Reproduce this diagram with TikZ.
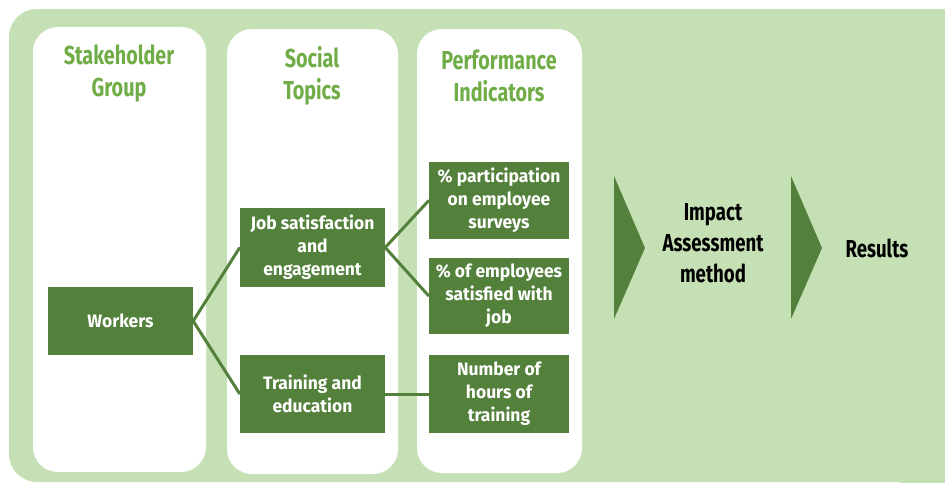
\documentclass[tikz,border=0pt]{standalone}
\usepackage{fontspec}
\setmainfont{Fira Sans}
\newfontfamily\condfont{Fira Sans}[FakeStretch=0.76]
\newfontfamily\boxfont{Fira Sans}[FakeStretch=0.97]
\definecolor{dkgreen}{RGB}{83,129,59}
\definecolor{bggreen}{RGB}{198,224,182}
\definecolor{ttlgreen}{RGB}{112,173,71}
\tikzset{
  box/.style={fill=dkgreen, text=white, align=center, inner sep=0pt,
    font=\boxfont\bfseries\fontsize{18}{23}\selectfont},
  colbox/.style={fill=white, rounded corners=25pt},
  ttl/.style={text=ttlgreen, align=center, font=\condfont\bfseries\fontsize{26}{32}\selectfont},
  blk/.style={text=black, align=center, font=\condfont\bfseries\fontsize{24.5}{31}\selectfont},
  link/.style={draw=dkgreen, line width=3pt},
  chev/.style={fill=dkgreen},
}
\begin{document}
\begin{tikzpicture}[x=1pt,y=-1pt]
\useasboundingbox (0,0) rectangle (945,483);
\clip (0,0) rectangle (945,483);
\fill[white] (0,0) rectangle (945,483);
\fill[bggreen, rounded corners=28pt] (9,9) rectangle (975,482);
\fill[bggreen] (900,440) rectangle (945,483);
% columns
\fill[colbox] (33,27) rectangle (206,472);
\fill[colbox] (227,29) rectangle (398,474);
\fill[colbox] (417,29) rectangle (582,473);
% titles
\node[ttl] (t1) at (119,74) {Stakeholder\\Group};
\node[ttl] (t2) at (312,76) {Social\\Topics};
\node[ttl] (t3) at (499,76) {Performance\\Indicators};
% boxes
\node[box, minimum width=145pt, minimum height=68pt] (workers) at (120.5,321) {Workers};
\node[box, minimum width=145pt, minimum height=79pt] (job) at (312.5,247.5) {Job satisfaction\\and\\engagement};
\node[box, minimum width=145pt, minimum height=78pt] (train) at (312.5,394) {Training and\\education};
\node[box, minimum width=140pt, minimum height=77pt] (part) at (499,200.5) {\% participation\\on employee\\surveys};
\node[box, minimum width=140pt, minimum height=76pt] (sat) at (499,296) {\% of employees\\satisfied with\\job};
\node[box, minimum width=140pt, minimum height=78pt] (hours) at (499,394) {Number of\\hours of\\training};
% connectors
\draw[link] (workers.east) -- (job.west);
\draw[link] (workers.east) -- (train.west);
\draw[link] (job.east) -- (part.west);
\draw[link] (job.east) -- (sat.west);
\draw[link] (train.east) -- (hours.west);
% chevrons
\fill[chev] (614,176) -- (645,248) -- (614,319) -- cycle;
\fill[chev] (791,176) -- (822,248) -- (791,319) -- cycle;
\node[blk] (impact) at (713,243) {Impact\\Assessment\\method};
\node[blk] (results) at (877,248) {Results};
\end{tikzpicture}
\end{document}
